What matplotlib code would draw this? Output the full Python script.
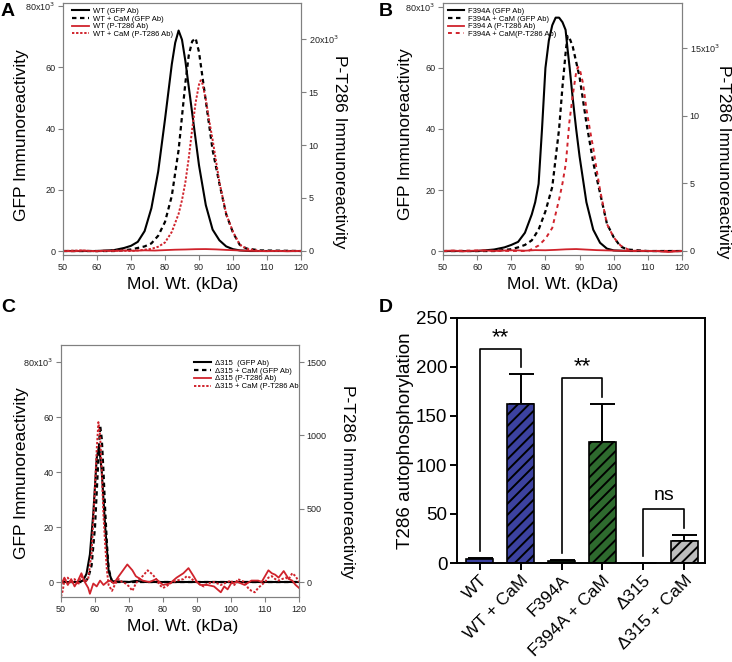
import matplotlib.pyplot as plt

plt.rcParams['font.family'] = ['Liberation Sans', 'DejaVu Sans']
plt.rcParams['hatch.linewidth'] = 1.4

RED = '#d0232c'
GREY = '#808080'

# ---------------- panel A : WT (x = kDa, GFP and P-T286 in 10^3)
a_wt_gfp_x = [50, 60, 65, 68, 70, 72, 74, 76, 78, 80, 82, 83, 84, 85, 86, 88, 90, 92, 94, 96, 98, 100, 102, 105,
              110, 120]
a_wt_gfp_y = [0, 0, 0.3, 1, 1.7, 3, 6.5, 14, 26, 43, 61, 68, 72, 69, 62, 45, 28, 15, 7, 3.5, 1.5, 0.6, 0.2, 0, 0, 0]
a_cam_gfp_x = [50, 65, 70, 74, 76, 78, 80, 82, 84, 86, 87, 88, 89, 90, 92, 94, 96, 98, 100, 102, 104, 108, 120]
a_cam_gfp_y = [0, 0, 0.5, 1.5, 2.5, 5, 9.5, 18, 33, 55, 64, 68.5, 69.5, 65, 49, 33, 22, 12, 6, 2, 0.8, 0.2, 0]
a_wt_pt_x = [50, 53, 56, 59, 62, 65, 68, 71, 74, 77, 80, 83, 86, 89, 92, 95, 98, 101, 104, 107, 110, 113, 116, 119, 120]
a_wt_pt_y = [0.0, -0.03, 0.04, -0.02, 0.03, 0.0, 0.05, 0.02, 0.06, 0.04, 0.08, 0.12, 0.14, 0.17, 0.18, 0.15, 0.1,
             0.06, 0.02, 0.0, -0.02, 0.01, -0.03, 0.0, 0.0]
a_cam_pt_x = [50, 55, 60, 65, 70, 73, 76, 78, 80, 82, 84, 85, 86, 87, 88, 89, 90, 90.5, 91, 92, 93, 94, 95, 96, 98,
              100, 102, 104, 108, 120]
a_cam_pt_y = [0, 0.05, -0.03, 0.04, 0, 0.08, 0.2, 0.4, 0.8, 1.8, 3.5, 4.8, 6.5, 8.8, 11.5, 14, 15.7, 16.1, 15.8,
              14.3, 12.3, 10.5, 8.5, 6.5, 3.5, 1.8, 0.6, 0.2, 0, 0]

# ---------------- panel B : F394A
b_wt_gfp_x = [50, 60, 65, 68, 70, 72, 74, 76, 77, 78, 79, 80, 81, 82, 83, 84, 85, 85.9, 86.5, 87.1, 88, 89, 90, 92,
              94, 96, 98, 100, 105, 120]
b_wt_gfp_y = [0, 0, 0.5, 1.2, 2, 3, 6, 12, 16, 22, 40, 60, 69, 74, 76.5, 76.5, 75, 72.5, 66, 60, 50, 40, 31, 16, 7,
              2.7, 0.8, 0.2, 0, 0]
b_cam_gfp_x = [50, 65, 70, 72, 74, 76, 78, 80, 82, 84, 85, 86, 86.5, 87, 88, 89, 90, 92, 94, 96, 98, 100, 102, 104,
               110, 120]
b_cam_gfp_y = [0, 0, 0.6, 1.2, 2, 3.5, 7, 13, 21, 40, 54, 66, 70.5, 70, 67, 62, 57, 42, 29, 19, 9, 4.5, 1.5, 0.5, 0, 0]
b_wt_pt_x = [50, 53, 56, 59, 62, 65, 68, 71, 74, 77, 80, 83, 86, 89, 92, 95, 98, 101, 104, 107, 110, 113, 116, 118, 120]
b_wt_pt_y = [0.0, 0.03, -0.03, 0.02, 0.04, 0.0, 0.03, 0.05, 0.02, 0.06, 0.05, 0.08, 0.12, 0.14, 0.1, 0.06, 0.04,
             0.02, 0.0, 0.02, 0.0, -0.02, -0.08, -0.04, 0.0]
b_cam_pt_x = [50, 60, 70, 75, 78, 80, 82, 84, 85, 86, 87, 88, 89, 89.5, 90, 91, 92, 93, 94, 95, 96, 98, 100, 102,
              105, 120]
b_cam_pt_y = [0, 0.03, 0, 0, 0.4, 0.9, 1.7, 3.8, 5, 6.5, 9.5, 11.5, 13.2, 13.6, 13.5, 12.4, 10.5, 9, 7.6, 6, 4.5, 2,
              1, 0.4, 0, 0]

# ---------------- panel C : delta315 (P-T286 in raw units)
c_wt_gfp_x = [50, 55, 56.5, 57.5, 58.5, 59.5, 60.5, 61.2, 62, 63, 64, 65, 70, 72, 75, 120]
c_wt_gfp_y = [0, 0, 0.5, 3, 10, 25, 45, 49.5, 40, 20, 4, 0.3, 0, 0.4, 0, 0]
c_cam_gfp_x = [50, 57, 58, 59, 60, 61, 61.5, 62, 62.5, 63, 63.5, 64, 65, 120]
c_cam_gfp_y = [0, 0, 1.5, 6, 20, 45, 57, 52, 40, 26, 14, 5, 0, 0]
c_wt_pt_x = [50, 51, 52, 53, 54, 55, 56, 57, 58, 58.5, 59.5, 60.5, 61.5, 62.5, 63.5, 64.5, 65.5, 67, 69.5, 71, 72,
             74, 76, 78, 80, 82, 84, 86, 87.5, 89, 90, 91, 93, 95, 97, 98, 99, 100, 102, 104, 106, 108, 109, 110,
             111, 112, 113, 114, 115.5, 117, 118, 119, 120]
c_wt_pt_y = [-20, 30, -20, 20, -30, 10, 60, 0, -40, -80, -10, -30, 10, -20, 0, 10, -10, 40, 120, 80, 40, 10, 0, 20,
             -20, -10, 30, 60, 95, 40, 0, -20, -20, -30, -70, -30, -50, -10, 0, -20, 10, 10, 0, 40, 80, 60, 50, 30,
             75, 20, 10, -20, -40]
c_cam_pt_x = [50, 50.5, 51, 52, 53, 54, 55, 56, 57, 58, 59, 60, 60.5, 61, 61.5, 62, 62.5, 63, 63.5, 64, 65, 66, 67,
              68, 69, 70, 71, 72, 73, 74, 75.5, 77, 78, 79, 80, 81, 82, 84, 86, 87, 88, 89, 90, 91, 92, 93, 95, 97,
              99, 100, 101, 102, 104, 105, 106, 107, 108, 109, 110, 111, 112, 113, 114, 116, 117, 118, 119, 120]
c_cam_pt_y = [-100, -60, 10, 30, -10, 20, -20, 40, 0, 20, 200, 650, 900, 1090, 1000, 750, 450, 250, 80, -20, -60,
              -10, 20, 0, -10, -30, -60, -10, 20, 40, 80, 50, 20, -20, -40, -30, -10, 10, 20, 40, 30, 10, 0, -20,
              -30, -10, 0, -20, 0, 10, -20, 20, 0, -40, -60, -70, -40, -20, 0, 30, 40, 20, 10, 30, 20, 60, 40, 0]

# ---------------- panel D : bar chart
d_labels = ['WT', 'WT + CaM', 'F394A', 'F394A + CaM', 'Δ315', 'Δ315 + CaM']
d_values = [4, 162, 2, 123, 0, 22]
d_errors = [1.5, 30.5, 1, 39.6, 0, 6.6]
d_colors = ['#3c42a0', '#3c42a0', '#2e6a2e', '#2e6a2e', '#bdbdbd', '#bdbdbd']
d_hatch = ['', '///', '', '///', '', '///']
d_pairs = [(0, 1, '**'), (2, 3, '**'), (4, 5, 'ns')]

W, H = 732, 662
fig = plt.figure(figsize=(W / 100, H / 100), dpi=100)


def px_axes(l, t, r, b):
    return fig.add_axes([l / W, 1 - b / H, (r - l) / W, (b - t) / H])


def style_igor(ax, ax2, ylim_l, ylim_r, lt, ll, rt, rl):
    ax.set_xlim(50, 120)
    ax.set_xticks(range(50, 121, 10))
    ax.set_ylim(*ylim_l)
    ax.set_yticks(lt)
    ax.set_yticklabels(ll)
    ax2.set_ylim(*ylim_r)
    ax2.set_yticks(rt)
    ax2.set_yticklabels(rl)
    for a in (ax, ax2):
        for s in a.spines.values():
            s.set_color(GREY)
            s.set_linewidth(0.8)
        a.tick_params(colors=GREY, labelcolor='#222222', labelsize=6.5, length=3.5, width=0.8, direction='out', pad=2)


def text_px(x, y, s, **kw):
    fig.text(x / W, 1 - y / H, s, ha='center', va='center', **kw)


def igor_labels(xc, ly, ry, rx, lx, xy):
    text_px(lx, ly, 'GFP Immunoreactivity', fontsize=12.5, rotation=90)
    text_px(rx, ry, 'P-T286 Immunoreactivity', fontsize=12.5, rotation=270)
    text_px(xc, xy, 'Mol. Wt. (kDa)', fontsize=12.5)


sci = r'80x10$^3$'
leg_kw = dict(loc='upper left', frameon=False, fontsize=5.5, handlelength=2.2, labelspacing=0.05,
              handletextpad=0.5, borderaxespad=0.2)

# ---- A
axA = px_axes(63, 3, 301, 255)
axA2 = axA.twinx()
h1, = axA.plot(a_wt_gfp_x, a_wt_gfp_y, color='black', lw=1.5, label='WT (GFP Ab)')
h2, = axA.plot(a_cam_gfp_x, a_cam_gfp_y, color='black', lw=1.6, ls=(0, (2, 1.6)), label='WT + CaM (GFP Ab)')
h3, = axA2.plot(a_wt_pt_x, a_wt_pt_y, color=RED, lw=1.3, label='WT (P-T286 Ab)')
h4, = axA2.plot(a_cam_pt_x, a_cam_pt_y, color=RED, lw=1.4, ls=(0, (1.2, 0.9)), label='WT + CaM (P-T286 Ab)')
style_igor(axA, axA2, (-1.3, 81), (-0.38, 23.4), [0, 20, 40, 60, 80], ['0', '20', '40', '60', sci],
           [0, 5, 10, 15, 20], ['0', '5', '10', '15', r'20x10$^3$'])
axA2.legend(handles=[h1, h2, h3, h4], bbox_to_anchor=(0.02, 1.0), **leg_kw)
igor_labels(183, 135, 152, 340, 22, 285)

# ---- B
axB = px_axes(443, 3, 682, 255)
axB2 = axB.twinx()
h1, = axB.plot(b_wt_gfp_x, b_wt_gfp_y, color='black', lw=1.5, label='F394A (GFP Ab)')
h2, = axB.plot(b_cam_gfp_x, b_cam_gfp_y, color='black', lw=1.6, ls=(0, (2, 1.6)), label='F394A + CaM (GFP Ab)')
h3, = axB2.plot(b_wt_pt_x, b_wt_pt_y, color=RED, lw=1.3, label='F394 A (P-T286 Ab)')
h4, = axB2.plot(b_cam_pt_x, b_cam_pt_y, color=RED, lw=1.4, ls=(0, (2, 2)), label='F394A + CaM(P-T286 Ab)')
style_igor(axB, axB2, (-1.3, 81.3), (-0.30, 18.33), [0, 20, 40, 60, 80], ['0', '20', '40', '60', sci],
           [0, 5, 10, 15], ['0', '5', '10', r'15x10$^3$'])
axB2.legend(handles=[h1, h2, h3, h4], bbox_to_anchor=(0.0, 1.0), **leg_kw)
igor_labels(563, 134, 162, 723, 406, 285)

# ---- C
axC = px_axes(61, 345, 299, 597)
axC2 = axC.twinx()
h1, = axC.plot(c_wt_gfp_x, c_wt_gfp_y, color='black', lw=1.5, label='Δ315  (GFP Ab)')
h2, = axC.plot(c_cam_gfp_x, c_cam_gfp_y, color='black', lw=1.6, ls=(0, (2, 1.6)), label='Δ315 + CaM (GFP Ab)')
h3, = axC2.plot(c_wt_pt_x, c_wt_pt_y, color=RED, lw=1.3, label='Δ315 (P-T286 Ab)')
h4, = axC2.plot(c_cam_pt_x, c_cam_pt_y, color=RED, lw=1.4, ls=(0, (1.2, 0.9)), label='Δ315 + CaM (P-T286 Ab')
style_igor(axC, axC2, (-5.45, 86.2), (-102, 1616), [0, 20, 40, 60, 80], ['0', '20', '40', '60', sci],
           [0, 500, 1000, 1500], ['0', '500', '1000', '1500'])
axC2.legend(handles=[h1, h2, h3, h4], bbox_to_anchor=(0.54, 0.96), **leg_kw)
igor_labels(183, 473, 482, 347, 22, 627)

# ---- D
axD = px_axes(457, 318, 705, 563)
pos = list(range(len(d_labels)))
axD.errorbar(pos, d_values, yerr=[[0] * len(pos), d_errors], fmt='none', ecolor='black', elinewidth=1.4,
             capsize=9, capthick=1.4, zorder=1)
axD.bar(pos, d_values, width=0.66, color=d_colors, edgecolor='black', linewidth=1.2, hatch=d_hatch, zorder=2)
for i, j, txt in d_pairs:
    top_i = d_values[i] + d_errors[i]
    top_j = d_values[j] + d_errors[j]
    yb = max(top_i, top_j) + 26
    axD.plot([i, i, j, j], [top_i + 7, yb, yb, top_j + 7], color='black', lw=1.2)
    if txt == '**':
        axD.text((i + j) / 2, yb + 1, txt, ha='center', va='bottom', fontsize=16)
    else:
        axD.text((i + j) / 2, yb + 6, txt, ha='center', va='bottom', fontsize=14)
axD.set_xlim(-0.56, 5.51)
axD.set_ylim(0, 250)
axD.set_yticks(range(0, 251, 50))
axD.set_xticks(pos)
axD.set_xticklabels(d_labels, rotation=45, ha='right', va='top', rotation_mode='anchor', fontsize=12.5)
axD.tick_params(axis='y', labelsize=13.5)
axD.tick_params(width=1.4, length=5, direction='out', pad=2)
for s in axD.spines.values():
    s.set_linewidth(1.4)
axD.set_ylabel('T286 autophosphorylation', fontsize=13.5)
axD.yaxis.set_label_coords(-0.175, 0.5)

# panel letters
for letter, (x, y) in zip('ABCD', [(8, 11), (386, 11), (8, 308), (386, 308)]):
    text_px(x, y, letter, fontsize=14, fontweight='bold')

fig.savefig('out.png', dpi=100)
